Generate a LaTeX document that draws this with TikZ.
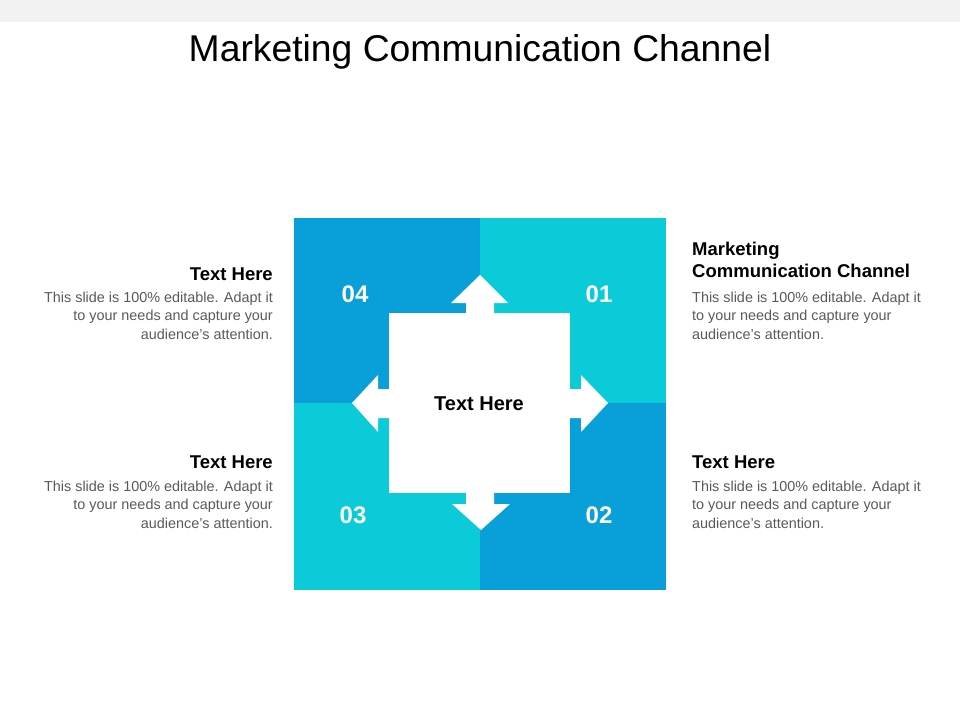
\documentclass[tikz,border=0pt]{standalone}
\usepackage{fontspec}
\setmainfont{Liberation Sans}
\usetikzlibrary{positioning}
\definecolor{blueColor}{HTML}{099FD9}
\definecolor{cyanColor}{HTML}{0ACBD7}
\definecolor{bandColor}{HTML}{F2F2F2}
\definecolor{bodyColor}{HTML}{595959}
\tikzset{
	tile/.style={fill=#1, draw=none},
	num/.style={text=white, font=\fontsize{24}{28}\selectfont\bfseries},
	head/.style={font=\fontsize{18.5}{22}\selectfont\bfseries, inner sep=0, align=#1},
	body/.style={text=bodyColor, font=\fontsize{14.4}{18.2}\selectfont, inner sep=0, align=#1}
}
\newcommand{\bodytext}{This slide is 100\% editable. Adapt it\\to your needs and capture your\\audience's attention.}
\begin{document}
\begin{tikzpicture}[x=1pt, y=-1pt]
\useasboundingbox (0,0) rectangle (960,720);
\fill[bandColor] (0,0) rectangle (960,22);
\node[font=\fontsize{37.3}{42}\selectfont] (title) at (480,52) {Marketing Communication Channel};
% quarters
\fill[tile=blueColor] (294,218) rectangle (480,403);
\fill[tile=cyanColor] (480,218) rectangle (666,403);
\fill[tile=cyanColor] (294,403) rectangle (480,590);
\fill[tile=blueColor] (480,403) rectangle (666,590);
% centre with four arrows
\fill[white] (389,313) rectangle (570,493);
\fill[white] (466,313) -- (466,303) -- (451,303) -- (480,275) -- (508,303) -- (494,303) -- (494,313) -- cycle;
\fill[white] (466,493) -- (466,504) -- (452,504) -- (481,530) -- (510,504) -- (494,504) -- (494,493) -- cycle;
\fill[white] (389,389) -- (378,389) -- (378,375) -- (352,403) -- (378,432) -- (378,418) -- (389,418) -- cycle;
\fill[white] (570,389) -- (581,389) -- (581,375) -- (608,403) -- (581,432) -- (581,418) -- (570,418) -- cycle;
\node[font=\fontsize{20}{24}\selectfont\bfseries] (centre) at (479,404) {Text Here};
\node[num] (n04) at (355,294) {04};
\node[num] (n01) at (599,294) {01};
\node[num] (n03) at (353,515) {03};
\node[num] (n02) at (599,515) {02};
% side texts
\node[head=right, anchor=base east] (h4) at (273,280) {Text Here};
\node[body=right, anchor=north east] (b4) at (273,292) {\bodytext};
\node[head=right, anchor=base east] (h3) at (273,468) {Text Here};
\node[body=right, anchor=north east] (b3) at (273,481) {\bodytext};
\node[head=left, anchor=base west] (h1) at (692,277) {Marketing\\Communication Channel};
\node[body=left, anchor=north west] (b1) at (692,292) {\bodytext};
\node[head=left, anchor=base west] (h2) at (692,468) {Text Here};
\node[body=left, anchor=north west] (b2) at (692,481) {\bodytext};
\end{tikzpicture}
\end{document}
